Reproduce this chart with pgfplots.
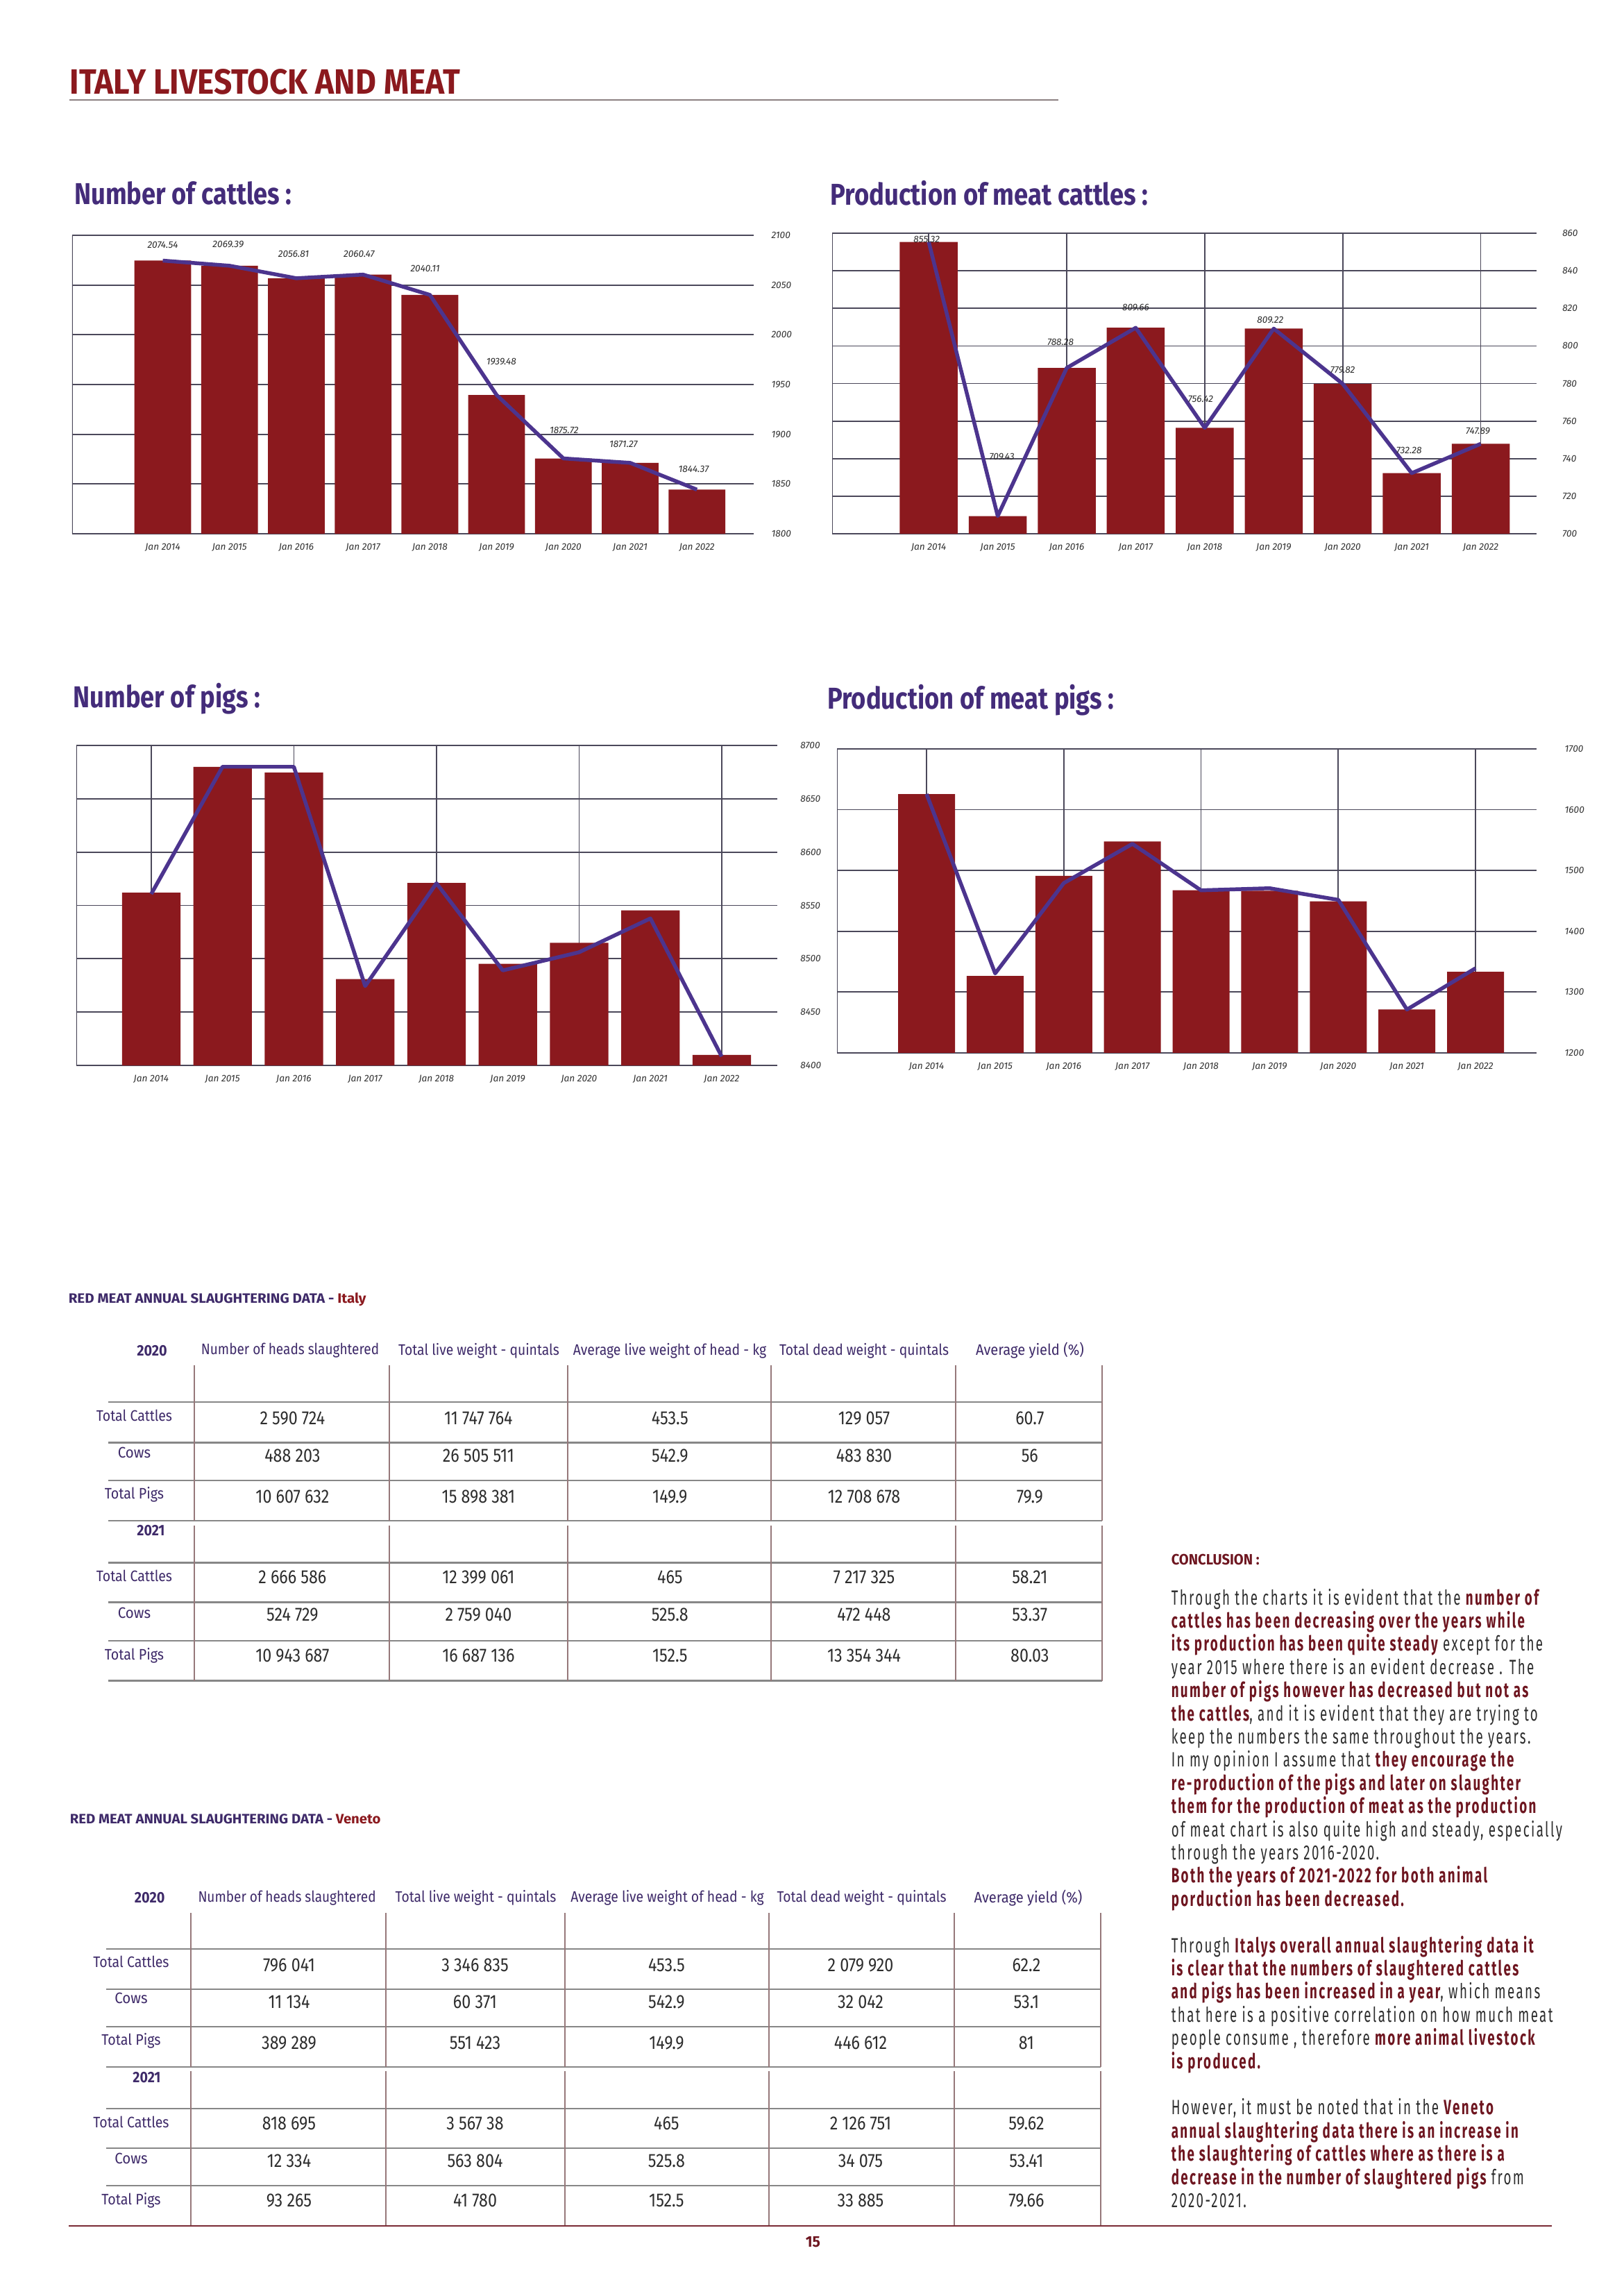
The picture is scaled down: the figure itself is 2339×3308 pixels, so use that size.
\documentclass[border=0pt]{standalone}
\usepackage{pgfplots}
\pgfplotsset{compat=1.18}
\usepackage{fontspec}
\usepackage{graphicx}
\setmainfont{Fira Sans}
\newfontfamily\valfontfam[FakeStretch=0.85]{Fira Sans}
\newfontfamily\bodyfont[FakeStretch=0.63,LetterSpace=8]{Fira Sans}

\definecolor{barred}{RGB}{139,25,30}
\definecolor{linevio}{RGB}{76,52,142}
\definecolor{titlevio}{RGB}{68,44,122}
\definecolor{tabvio}{RGB}{62,42,105}
\definecolor{gridcol}{RGB}{75,72,90}
\definecolor{tickcol}{RGB}{50,50,50}
\definecolor{concred}{RGB}{110,22,32}
\definecolor{bodycol}{RGB}{45,45,45}
\definecolor{hline}{RGB}{135,135,135}
\definecolor{vline}{RGB}{150,120,122}
\definecolor{footline}{RGB}{122,42,53}
\definecolor{ruleline}{RGB}{140,128,130}
\definecolor{valcol}{RGB}{45,45,45}

\newcommand{\ticklab}{\fontsize{3.5}{4}\selectfont\itshape}
\newcommand{\B}[1]{{\bfseries\color{concred}#1}}

\pgfplotsset{
  livechart/.style={
    scale only axis, anchor=north west,
    axis line style={draw=none},
    enlargelimits=false,
    ymajorgrids, grid style={gridcol, line width=0.45pt},
    major tick length=0pt,
    xtick={0,...,8},
    xticklabels={Jan 2014,Jan 2015,Jan 2016,Jan 2017,Jan 2018,Jan 2019,Jan 2020,Jan 2021,Jan 2022},
    yticklabel pos=right,
    tick label style={font=\ticklab, text=tickcol},
    /pgf/number format/1000 sep={},
    /pgf/number format/assume math mode=true,
  },
  vgrid/.style={extra x ticks={0,2,4,6,8}, extra x tick labels={}, extra x tick style={grid=major}},
  vallabels/.style={draw=none, nodes near coords, point meta=explicit symbolic,
    every node near coord/.append style={anchor=center, font=\ticklab, text=valcol, inner sep=0pt}},
}

\begin{document}
\begin{tikzpicture}
\begin{scope}[x=0.0897827mm, y=-0.0897827mm]
\path[use as bounding box, fill=white] (0,0) rectangle (2339,3308);
\coordinate (c1) at (104,339);
\coordinate (c2) at (1199,336);
\coordinate (c3) at (110,1074);
\coordinate (c4) at (1206,1079);

% main title
\node[anchor=base west, inner sep=0pt] at (100,136) {\resizebox{50.46mm}{3.23mm}{\bfseries\color{barred}ITALY LIVESTOCK AND MEAT}};
\draw[ruleline, line width=0.5pt] (100,144) -- (1525,144);

% chart titles
\node[anchor=base west, inner sep=0pt] at (106.7,295) {\resizebox{28.1mm}{\height}{\fontsize{11.1}{12}\selectfont\bfseries\color{titlevio}Number of cattles :}};
\node[anchor=base west, inner sep=0pt] at (1196,296) {\resizebox{41.1mm}{\height}{\fontsize{11.1}{12}\selectfont\bfseries\color{titlevio}Production of meat cattles :}};
\node[anchor=base west, inner sep=0pt] at (105,1019) {\resizebox{24.15mm}{\height}{\fontsize{11.1}{12}\selectfont\bfseries\color{titlevio}Number of pigs :}};
\node[anchor=base west, inner sep=0pt] at (1191.5,1021) {\resizebox{37.1mm}{\height}{\fontsize{11.1}{12}\selectfont\bfseries\color{titlevio}Production of meat pigs :}};

% ---------- table titles
\node[anchor=base west, inner sep=0pt] at (98,1877.7) {\resizebox{38.5mm}{\height}{\fontsize{5}{6}\selectfont\bfseries\color{tabvio}RED MEAT ANNUAL SLAUGHTERING DATA - \color{barred}Italy}};
\node[anchor=base west, inner sep=0pt] at (100,2627.5) {\resizebox{40.2mm}{\height}{\fontsize{5}{6}\selectfont\bfseries\color{tabvio}RED MEAT ANNUAL SLAUGHTERING DATA - \color{barred}Veneto}};

% ---------- table 1 lines
\foreach \yy in {2020,2078.5,2133,2191,2251.5,2308.5,2364,2421.5}
  \draw[hline, line width=0.55pt] (156,\yy) -- (1588,\yy);
\foreach \xx in {280,561,818,1111,1377,1588}{
  \draw[vline, line width=0.35pt] (\xx,1967) -- (\xx,2191);
  \draw[vline, line width=0.35pt] (\xx,2198) -- (\xx,2421.5);}
% ---------- table 2 lines
\foreach \yy in {2808,2866,2920,2978,3038,3095,3149}
  \draw[hline, line width=0.55pt] (153,\yy) -- (1586,\yy);
\foreach \xx in {275,556,814,1108,1375,1586}{
  \draw[vline, line width=0.35pt] (\xx,2756) -- (\xx,2978);
  \draw[vline, line width=0.35pt] (\xx,2984) -- (\xx,3207);}

% ---------- table headers
\foreach \yy/\xo/\xa/\xb/\xc/\xd/\xe in {1945.8/219/418/690/965/1245/1484, 2734.3/215.6/413.6/685.5/961.5/1241.5/1481.5}{
  \node[inner sep=0pt] at (\xo,\yy) {\resizebox{3.9mm}{\height}{\fontsize{5.6}{6}\selectfont\bfseries\color{tabvio}2020}};
  \node[inner sep=0pt] at (\xa,\yy) {\resizebox{23.0mm}{\height}{\fontsize{5.6}{6}\selectfont\color{tabvio}Number of heads slaughtered}};
  \node[inner sep=0pt] at (\xb,\yy) {\resizebox{20.8mm}{\height}{\fontsize{5.6}{6}\selectfont\color{tabvio}Total live weight - quintals}};
  \node[inner sep=0pt] at (\xc,\yy) {\resizebox{25.0mm}{\height}{\fontsize{5.6}{6}\selectfont\color{tabvio}Average live weight of head - kg}};
  \node[inner sep=0pt] at (\xd,\yy) {\resizebox{21.9mm}{\height}{\fontsize{5.6}{6}\selectfont\color{tabvio}Total dead weight - quintals}};
  \node[inner sep=0pt] at (\xe,\yy) {\resizebox{14.0mm}{\height}{\fontsize{5.6}{6}\selectfont\color{tabvio}Average yield (\%)}};
}
% row labels
\foreach \xx/\xy/\ya/\yb/\yc/\yd/\ye/\yf/\yg in {193.5/217.5/2039.2/2092.7/2153.5/2205.4/2270.8/2323.8/2385.4, 189/211.5/2826.4/2878.5/2939.8/2993.2/3057.2/3109.8/3170.2}{
  \node[inner sep=0pt] at (\xx,\ya) {\resizebox{9.8mm}{\height}{\fontsize{5.6}{6}\selectfont\color{tabvio}Total Cattles}};
  \node[inner sep=0pt] at (\xx,\yb) {\resizebox{4.25mm}{\height}{\fontsize{5.6}{6}\selectfont\color{tabvio}Cows}};
  \node[inner sep=0pt] at (\xx,\yc) {\resizebox{7.65mm}{\height}{\fontsize{5.6}{6}\selectfont\color{tabvio}Total Pigs}};
  \node[inner sep=0pt] at (\xy,\yd) {\resizebox{3.6mm}{\height}{\fontsize{5.6}{6}\selectfont\bfseries\color{tabvio}2021}};
  \node[inner sep=0pt] at (\xx,\ye) {\resizebox{9.8mm}{\height}{\fontsize{5.6}{6}\selectfont\color{tabvio}Total Cattles}};
  \node[inner sep=0pt] at (\xx,\yf) {\resizebox{4.25mm}{\height}{\fontsize{5.6}{6}\selectfont\color{tabvio}Cows}};
  \node[inner sep=0pt] at (\xx,\yg) {\resizebox{7.65mm}{\height}{\fontsize{5.6}{6}\selectfont\color{tabvio}Total Pigs}};
}
% values table 1
\foreach \yy/\a/\b/\c/\d/\e in {
 2043.8/2 590 724/11 747 764/453.5/129 057/60.7,
 2097.7/488 203/26 505 511/542.9/483 830/56,
 2156.2/10 607 632/15 898 381/149.9/12 708 678/79.9,
 2272.7/2 666 586/12 399 061/465/7 217 325/58.21,
 2326.5/524 729/2 759 040/525.8/472 448/53.37,
 2385.4/10 943 687/16 687 136/152.5/13 354 344/80.03}{
  \node[inner sep=0pt, font=\valfontfam\fontsize{7}{8}\selectfont, text=valcol] at (421.4,\yy) {\a};
  \node[inner sep=0pt, font=\valfontfam\fontsize{7}{8}\selectfont, text=valcol] at (689.4,\yy) {\b};
  \node[inner sep=0pt, font=\valfontfam\fontsize{7}{8}\selectfont, text=valcol] at (965.3,\yy) {\c};
  \node[inner sep=0pt, font=\valfontfam\fontsize{7}{8}\selectfont, text=valcol] at (1245,\yy) {\d};
  \node[inner sep=0pt, font=\valfontfam\fontsize{7}{8}\selectfont, text=valcol] at (1483.8,\yy) {\e};
}
% values table 2
\foreach \yy/\a/\b/\c/\d/\e in {
 2831/796 041/3 346 835/453.5/2 079 920/62.2,
 2884.5/11 134/60 371/542.9/32 042/53.1,
 2943/389 289/551 423/149.9/446 612/81,
 3059.6/818 695/3 567 38/465/2 126 751/59.62,
 3113.7/12 334/563 804/525.8/34 075/53.41,
 3170/93 265/41 780/152.5/33 885/79.66}{
  \node[inner sep=0pt, font=\valfontfam\fontsize{7}{8}\selectfont, text=valcol] at (416.5,\yy) {\a};
  \node[inner sep=0pt, font=\valfontfam\fontsize{7}{8}\selectfont, text=valcol] at (684.5,\yy) {\b};
  \node[inner sep=0pt, font=\valfontfam\fontsize{7}{8}\selectfont, text=valcol] at (960.4,\yy) {\c};
  \node[inner sep=0pt, font=\valfontfam\fontsize{7}{8}\selectfont, text=valcol] at (1240,\yy) {\d};
  \node[inner sep=0pt, font=\valfontfam\fontsize{7}{8}\selectfont, text=valcol] at (1478.9,\yy) {\e};
}

% footer
\draw[footline, line width=0.55pt] (99,3207) -- (2236,3207);
\node[anchor=base west, inner sep=0pt] at (1160,3237) {\resizebox{1.9mm}{\height}{\fontsize{5.7}{6}\selectfont\bfseries\color{concred}15}};

% conclusion
\node[anchor=base west, inner sep=0pt] at (1687,2254) {\resizebox{11.4mm}{\height}{\fontsize{5.5}{6}\selectfont\bfseries\color{concred}CONCLUSION :}};
\begin{scope}[every node/.style={anchor=base west, inner sep=0pt, font=\bodyfont\fontsize{7.6}{8}\selectfont, text=bodycol}]
\node at (1687,2312.0) {Through the charts it is evident that the \B{number of}};
\node at (1687,2345.4) {\B{cattles has been decreasing over the years while}};
\node at (1687,2378.8) {\B{its production has been quite steady} except for the};
\node at (1687,2412.2) {year 2015 where there is an evident decrease . The};
\node at (1687,2445.6) {\B{number of pigs however has decreased but not as}};
\node at (1687,2479.0) {\B{the cattles}, and it is evident that they are trying to};
\node at (1687,2512.4) {keep the numbers the same throughout the years.};
\node at (1687,2545.8) {In my opinion I assume that \B{they encourage the}};
\node at (1687,2579.2) {\B{re-production of the pigs and later on slaughter}};
\node at (1687,2612.6) {\B{them for the production of meat as the production}};
\node at (1687,2646.0) {of meat chart is also quite high and steady, especially};
\node at (1687,2679.4) {through the years 2016-2020.};
\node at (1687,2712.8) {\B{Both the years of 2021-2022 for both animal}};
\node at (1687,2746.2) {\B{porduction has been decreased.}};
\node at (1687,2813.0) {Through \B{Italys overall annual slaughtering data it}};
\node at (1687,2846.4) {\B{is clear that the numbers of slaughtered cattles}};
\node at (1687,2879.8) {\B{and pigs has been increased in a year}, which means};
\node at (1687,2913.2) {that here is a positive correlation on how much meat};
\node at (1687,2946.6) {people consume , therefore \B{more animal livestock}};
\node at (1687,2980.0) {\B{is produced.}};
\node at (1687,3046.8) {However, it must be noted that in the \B{Veneto}};
\node at (1687,3080.2) {\B{annual slaughtering data there is an increase in}};
\node at (1687,3113.6) {\B{the slaughtering of cattles where as there is a}};
\node at (1687,3147.0) {\B{decrease in the number of slaughtered pigs} from};
\node at (1687,3180.4) {2020-2021.};
\end{scope}
\end{scope}

% ---------------- Chart 1: Number of cattles
\begin{axis}[livechart, at={(c1)}, width=88.16mm, height=38.61mm,
  xmin=-1.357, xmax=8.85, ymin=1800, ymax=2100, ytick={1800,1850,...,2100},
  yticklabel style={xshift=1.05mm}]
\draw[gridcol, line width=0.45pt] (rel axis cs:0,0) -- (rel axis cs:0,1);
\addplot[ybar, bar shift=0pt, bar width=0.85, fill=barred, draw=none] coordinates {
 (0,2074.54) (1,2069.39) (2,2056.81) (3,2060.47) (4,2040.11) (5,1939.48) (6,1875.72) (7,1871.27) (8,1844.37)};
\addplot[linevio, line width=1.4pt, line join=round] coordinates {
 (0,2074.54) (1,2069.39) (2,2056.81) (3,2060.47) (4,2040.11) (5,1939.48) (6,1875.72) (7,1871.27) (8,1844.37)};
\addplot[vallabels] coordinates {
 (0,2090.2) [2074.54] (0.98,2090.9) [2069.39] (1.96,2080.9) [2056.81] (2.94,2081.4) [2060.47]
 (3.93,2066.3) [2040.11] (5.07,1972.8) [1939.48] (6.01,1903.7) [1875.72] (6.9,1889.8) [1871.27] (7.95,1865.3) [1844.37]};
\end{axis}

% ---------------- Chart 2: Production of meat cattles
\begin{axis}[livechart, vgrid, at={(c2)}, width=91.13mm, height=38.88mm,
  xmin=-1.40, xmax=8.81, ymin=700, ymax=860, ytick={700,720,...,860},
  yticklabel style={xshift=2.1mm}]
\draw[gridcol, line width=0.45pt] (rel axis cs:0,0) -- (rel axis cs:0,1);
\addplot[ybar, bar shift=0pt, bar width=0.84, fill=barred, draw=none] coordinates {
 (0,855.32) (1,709.43) (2,788.28) (3,809.66) (4,756.42) (5,809.22) (6,779.82) (7,732.28) (8,747.89)};
\addplot[linevio, line width=1.4pt, line join=round] coordinates {
 (0,855.32) (1,709.43) (2,788.28) (3,809.66) (4,756.42) (5,809.22) (6,779.82) (7,732.28) (8,747.89)};
\addplot[vallabels] coordinates {
 (-0.03,856.7) [855.32] (1.06,741.0) [709.43] (1.91,801.9) [788.28] (3,820.6) [809.66]
 (3.94,771.8) [756.42] (4.95,813.8) [809.22] (6,787.1) [779.82] (6.96,744.3) [732.28] (7.96,754.8) [747.89]};
\end{axis}

% ---------------- Chart 3: Number of pigs
\begin{axis}[livechart, vgrid, at={(c3)}, width=90.68mm, height=41.39mm,
  xmin=-1.05, xmax=8.78, ymin=8400, ymax=8700, ytick={8400,8450,...,8700},
  yticklabel style={xshift=1.75mm}]
\draw[gridcol, line width=0.45pt] (rel axis cs:0,0) -- (rel axis cs:0,1);
\addplot[ybar, bar shift=0pt, bar width=0.82, fill=barred, draw=none] coordinates {
 (0,8561.9) (1,8679.9) (2,8674.6) (3,8481.0) (4,8571.1) (5,8495.2) (6,8515.0) (7,8545.4) (8,8409.9)};
\addplot[linevio, line width=1.4pt, line join=round] coordinates {
 (0,8560.7) (1,8680) (2,8680) (3,8474.4) (4,8570.8) (4.93,8489.1) (6,8506.1) (7,8537.8) (8,8408.4)};
\end{axis}

% ---------------- Chart 4: Production of meat pigs
\begin{axis}[livechart, vgrid, at={(c4)}, width=90.50mm, height=39.32mm,
  xmin=-1.305, xmax=8.89, ymin=1200, ymax=1700, ytick={1200,1300,...,1700},
  yticklabel style={xshift=2.4mm}]
\draw[gridcol, line width=0.45pt] (rel axis cs:0,0) -- (rel axis cs:0,1);
\addplot[ybar, bar shift=0pt, bar width=0.83, fill=barred, draw=none] coordinates {
 (0,1625.7) (1,1326.5) (2,1491.2) (3,1547.6) (4,1467.4) (5,1466.6) (6,1449.2) (7,1271.3) (8,1333.3)};
\addplot[linevio, line width=1.4pt, line join=round] coordinates {
 (0,1625.7) (1,1330.7) (2,1479.3) (3,1543.8) (4,1467.4) (5,1470.8) (6,1451.7) (7,1271.3) (8,1339.2)};
\end{axis}
\end{tikzpicture}
\end{document}
